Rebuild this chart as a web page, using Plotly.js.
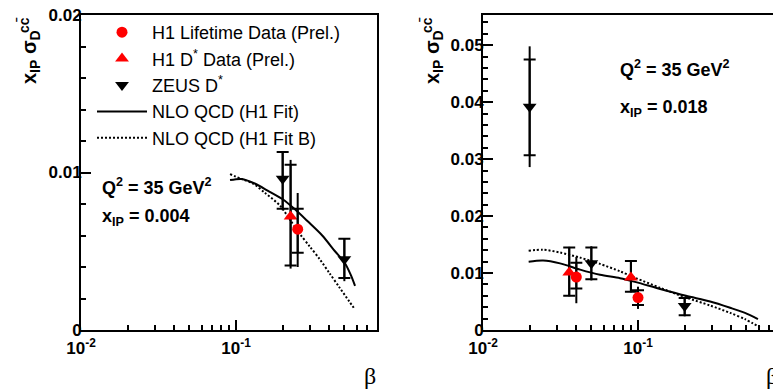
<!DOCTYPE html>
<html>
<head>
<meta charset="utf-8">
<script src="https://cdn.plot.ly/plotly-3.0.1.min.js"></script>
<style>
html, body { margin:0; padding:0; overflow:hidden; background:#fff; }
#chart { width:790px; height:390px; }
</style>
</head>
<body>
<div id="chart"></div>
<script>
// ---------- Left panel: Q^2 = 35 GeV^2, x_IP = 0.004 ----------
const L_life_beta = [0.25];
const L_life_val = [0.0064];
const L_life_statUp = [0.0013];
const L_life_statDn = [0.0015];
const L_life_totUp = [0.0023];
const L_life_totDn = [0.0024];

const L_dstar_beta = [0.225];
const L_dstar_val = [0.0072];
const L_dstar_statUp = [0.0033];
const L_dstar_statDn = [0.0031];
const L_dstar_totUp = [0.0036];
const L_dstar_totDn = [0.0033];

const L_zeus_beta = [0.2, 0.5];
const L_zeus_val = [0.0096, 0.0045];
const L_zeus_statUp = [0.0017, 0.0013];
const L_zeus_statDn = [0.0019, 0.0012];
const L_zeus_totUp = [0.0017, 0.0013];
const L_zeus_totDn = [0.0020, 0.0014];

const L_fit_beta = [0.0915, 0.109, 0.132, 0.16, 0.2, 0.24, 0.29, 0.36, 0.435, 0.5, 0.55, 0.586];
const L_fit_val  = [0.00952, 0.00959, 0.0093, 0.00885, 0.0083, 0.00766, 0.0069, 0.0060, 0.0050, 0.0043, 0.0035, 0.0028];
const L_fitB_beta = [0.0915, 0.1077, 0.1287, 0.1539, 0.1923, 0.2228, 0.2581, 0.2991, 0.3465, 0.4014, 0.465, 0.539, 0.586];
const L_fitB_val  = [0.0099, 0.0096, 0.0093, 0.0087, 0.0079, 0.0070, 0.0061, 0.0053, 0.0045, 0.0036, 0.0027, 0.0018, 0.0013];

// ---------- Right panel: Q^2 = 35 GeV^2, x_IP = 0.018 ----------
const R_life_beta = [0.04, 0.1];
const R_life_val = [0.0093, 0.0057];
const R_life_statUp = [0.0025, 0.0013];
const R_life_statDn = [0.0020, 0.0013];
const R_life_totUp = [0.0035, 0.0019];
const R_life_totDn = [0.0046, 0.0020];

const R_dstar_beta = [0.036, 0.09];
const R_dstar_val = [0.0101, 0.0092];
const R_dstar_statUp = [0.0044, 0.0029];
const R_dstar_statDn = [0.0041, 0.0025];
const R_dstar_totUp = [0.0045, 0.0030];
const R_dstar_totDn = [0.0042, 0.0026];

const R_zeus_beta = [0.02, 0.05, 0.2];
const R_zeus_val = [0.0392, 0.0117, 0.0042];
const R_zeus_statUp = [0.0083, 0.0028, 0.0014];
const R_zeus_statDn = [0.0085, 0.0028, 0.0016];
const R_zeus_totUp = [0.0106, 0.0030, 0.0015];
const R_zeus_totDn = [0.0106, 0.0030, 0.0018];

const R_fit_beta = [0.0197, 0.0244, 0.0314, 0.0423, 0.0569, 0.0766, 0.097, 0.139, 0.204, 0.292, 0.393, 0.49, 0.594];
const R_fit_val  = [0.0120, 0.0122, 0.0117, 0.0106, 0.0097, 0.0091, 0.0084, 0.0072, 0.0060, 0.0050, 0.0039, 0.0030, 0.0019];
const R_fitB_beta = [0.0197, 0.0244, 0.0314, 0.0423, 0.0569, 0.0766, 0.097, 0.139, 0.204, 0.292, 0.393, 0.49, 0.61];
const R_fitB_val  = [0.0139, 0.0141, 0.0136, 0.0127, 0.0116, 0.0103, 0.0091, 0.0074, 0.0057, 0.0043, 0.0030, 0.0019, 0.0005];

// ---------- Labels / ticks ----------
const legendNames = ['H1 Lifetime Data (Prel.)', 'H1 D<sup>*</sup> Data (Prel.)', 'ZEUS D<sup>*</sup>', 'NLO QCD (H1 Fit)', 'NLO QCD (H1 Fit B)'];
const xTickVals = [0.01, 0.1];
const xTickText = ['10<sup>-2</sup>', '10<sup>-1</sup>'];
const xMinorVals = [0.02,0.03,0.04,0.05,0.06,0.07,0.08,0.09,0.2,0.3,0.4,0.5,0.6,0.7,0.8];
const yTickValsL = [0, 0.01, 0.02];
const yTickTextL = ['0', '0.01', '0.02'];
const yTickValsR = [0, 0.01, 0.02, 0.03, 0.04, 0.05];
const yTickTextR = ['0', '0.01', '0.02', '0.03', '0.04', '0.05'];
const panelTexts = [['Q<sup>2</sup> = 35 GeV<sup>2</sup>', 'x<sub>IP</sub> = 0.004'], ['Q<sup>2</sup> = 35 GeV<sup>2</sup>', 'x<sub>IP</sub> = 0.018']];

// ---------- Styling ----------
const W = 790, H = 390;
const FONT = 'Liberation Sans, Arial, sans-serif';
const RED = '#ff0000';
const bold = s => '<b>' + s + '</b>';

function errTraces(xa, ya, beta, val, sUp, sDn, tUp, tDn, symbol, color, size, name, showLeg, rank) {
  return [
    { x: beta, y: val, xaxis: xa, yaxis: ya, type: 'scatter', mode: 'markers',
      marker: { size: 1, color: 'rgba(0,0,0,0)' }, showlegend: false, hoverinfo: 'skip',
      error_y: { type: 'data', symmetric: false, array: tUp, arrayminus: tDn, thickness: 2, width: 0, color: '#000' } },
    { x: beta, y: val, xaxis: xa, yaxis: ya, type: 'scatter', mode: 'markers', name: name,
      showlegend: showLeg, legendrank: rank,
      marker: { symbol: symbol, size: size, color: color, line: { width: 0 } },
      error_y: { type: 'data', symmetric: false, array: sUp, arrayminus: sDn, thickness: 2, width: 6, color: '#000' } }
  ];
}

function curve(xa, ya, bx, by, dash, name, showLeg, rank) {
  return { x: bx, y: by, xaxis: xa, yaxis: ya, type: 'scatter', mode: 'lines', name: name,
    showlegend: showLeg, legendrank: rank, hoverinfo: 'skip',
    line: { color: '#000', width: 2, dash: dash, shape: 'spline', smoothing: 0.8 } };
}

const DOT = '2px,2px';
const data = [
  curve('x', 'y', L_fit_beta, L_fit_val, 'solid', legendNames[3], true, 4),
  curve('x', 'y', L_fitB_beta, L_fitB_val, DOT, legendNames[4], true, 5),
  curve('x2', 'y2', R_fit_beta, R_fit_val, 'solid', legendNames[3], false, 4),
  curve('x2', 'y2', R_fitB_beta, R_fitB_val, DOT, legendNames[4], false, 5),
  ...errTraces('x', 'y', L_zeus_beta, L_zeus_val, L_zeus_statUp, L_zeus_statDn, L_zeus_totUp, L_zeus_totDn, 'triangle-down', '#000', 12, legendNames[2], true, 3),
  ...errTraces('x', 'y', L_dstar_beta, L_dstar_val, L_dstar_statUp, L_dstar_statDn, L_dstar_totUp, L_dstar_totDn, 'triangle-up', RED, 12, legendNames[1], true, 2),
  ...errTraces('x', 'y', L_life_beta, L_life_val, L_life_statUp, L_life_statDn, L_life_totUp, L_life_totDn, 'circle', RED, 11, legendNames[0], true, 1),
  ...errTraces('x2', 'y2', R_zeus_beta, R_zeus_val, R_zeus_statUp, R_zeus_statDn, R_zeus_totUp, R_zeus_totDn, 'triangle-down', '#000', 12, legendNames[2], false, 3),
  ...errTraces('x2', 'y2', R_dstar_beta, R_dstar_val, R_dstar_statUp, R_dstar_statDn, R_dstar_totUp, R_dstar_totDn, 'triangle-up', RED, 12, legendNames[1], false, 2),
  ...errTraces('x2', 'y2', R_life_beta, R_life_val, R_life_statUp, R_life_statDn, R_life_totUp, R_life_totDn, 'circle', RED, 11, legendNames[0], false, 1)
];

const tickFont = { family: FONT, size: 17, color: '#000' };
function xAxis(dom, anchor) {
  return { domain: dom, anchor: anchor, type: 'log', range: [-2, Math.log10(0.812)],
    tickmode: 'array', tickvals: xTickVals, ticktext: xTickText.map(bold),
    ticks: 'inside', ticklen: 10, tickwidth: 2, tickcolor: '#000', ticklabelstandoff: 2,
    minor: { tickmode: 'array', tickvals: xMinorVals, ticks: 'inside', ticklen: 5, tickwidth: 2, tickcolor: '#000', showgrid: false },
    showline: true, linecolor: '#000', linewidth: 2, mirror: true,
    showgrid: false, zeroline: false, tickfont: tickFont, fixedrange: true };
}
function yAxis(dom, anchor, top, tv, tt) {
  return { domain: dom, anchor: anchor, range: [0, top], tickmode: 'array', tickvals: tv, ticktext: tt.map(bold),
    ticks: 'inside', ticklen: 10, tickwidth: 2, tickcolor: '#000', ticklabelstandoff: -6,
    minor: { tickmode: 'linear', tick0: 0, dtick: 0.002, ticks: 'inside', ticklen: 5, tickwidth: 2, tickcolor: '#000', showgrid: false },
    showline: true, linecolor: '#000', linewidth: 2, mirror: true,
    showgrid: false, zeroline: false, tickfont: tickFont, fixedrange: true };
}

const yDom = [1 - 330 / H, 1 - 15 / H];
function ann(text, px, py, opts) {
  return Object.assign({ text: text, xref: 'paper', yref: 'paper', x: px / W, y: 1 - py / H,
    showarrow: false, xanchor: 'left', yanchor: 'middle',
    font: { family: FONT, size: 18, color: '#000' } }, opts || {});
}

const annotations = [
  ann(bold(panelTexts[0][0]), 100, 186),
  ann(bold(panelTexts[0][1]), 100, 217),
  ann(bold(panelTexts[1][0]), 618, 68),
  ann(bold(panelTexts[1][1]), 618, 108),
  // y-axis titles
  ann('<b>x<sub>IP</sub> σ<sub>D</sub></b>', 30, 86, { textangle: -90, xanchor: 'center', yanchor: 'bottom', font: { family: FONT, size: 20, color: '#000' } }),
  ann('<b>cc\u0304</b>', 24, 25, { textangle: -90, xanchor: 'center', yanchor: 'middle', font: { family: FONT, size: 14, color: '#000' } }),
  ann('<b>x<sub>IP</sub> σ<sub>D</sub></b>', 433, 86, { textangle: -90, xanchor: 'center', yanchor: 'bottom', font: { family: FONT, size: 20, color: '#000' } }),
  ann('<b>cc\u0304</b>', 427, 25, { textangle: -90, xanchor: 'center', yanchor: 'middle', font: { family: FONT, size: 14, color: '#000' } }),
  // x-axis titles
  ann('β', 378, 376, { xanchor: 'right', font: { family: 'Liberation Serif, DejaVu Serif, serif', size: 24, color: '#000' } }),
  ann('β', 780, 376, { xanchor: 'right', font: { family: 'Liberation Serif, DejaVu Serif, serif', size: 24, color: '#000' } })
];

const layout = {
  width: W, height: H,
  margin: { l: 0, r: 0, t: 0, b: 0, pad: 0 },
  paper_bgcolor: '#fff', plot_bgcolor: '#fff',
  showlegend: true,
  legend: { x: 92 / W, y: 1 - 14 / H, xanchor: 'left', yanchor: 'top',
    bgcolor: 'rgba(0,0,0,0)', borderwidth: 0, itemwidth: 50,
    font: { family: FONT, size: 18, color: '#000' }, traceorder: 'normal' },
  xaxis: xAxis([81 / W, 377 / W], 'y'),
  yaxis: yAxis(yDom, 'x', 0.02, yTickValsL, yTickTextL),
  xaxis2: xAxis([483 / W, 779 / W], 'y2'),
  yaxis2: yAxis(yDom, 'x2', 0.0553, yTickValsR, yTickTextR),
  annotations: annotations
};

Plotly.newPlot('chart', data, layout, { displayModeBar: false, staticPlot: true });
</script>
</body>
</html>
